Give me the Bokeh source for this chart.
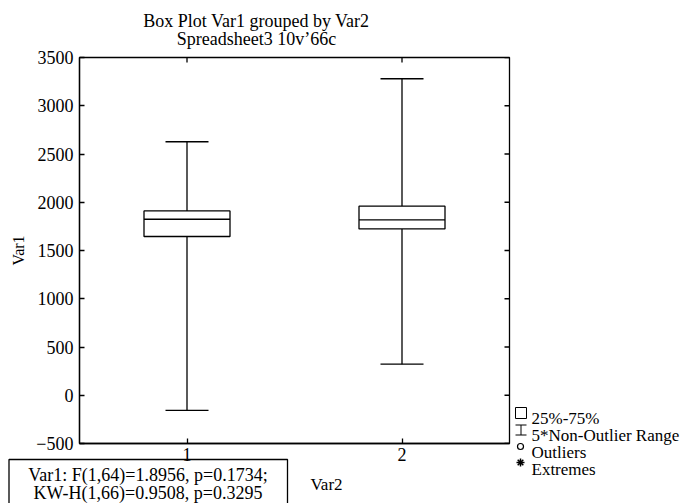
from bokeh.plotting import figure
from bokeh.models import Range1d, FixedTicker, Label, ColumnDataSource
from bokeh.embed import file_html
from bokeh.resources import INLINE

# ---- data ----
categories = ["1", "2"]
q1 = [1645, 1724]
median = [1824, 1817]
q3 = [1910, 1959]
whisker_low = [-156, 322]
whisker_high = [2627, 3280]
y_ticks = [-500, 0, 500, 1000, 1500, 2000, 2500, 3000, 3500]

title_lines = ["Box Plot Var1 grouped by Var2", "Spreadsheet3 10v\u201966c"]
stats_lines = ["Var1: F(1,64)=1.8956, p=0.1734;", "KW-H(1,66)=0.9508, p=0.3295"]
legend_labels = ["25%-75%", "5*Non-Outlier Range", "Outliers", "Extremes"]
x_title = "Var2"
y_title = "Var1"

FONT = "Liberation Serif"
LW = 1.3
W, H = 683, 503
BL, BR, BT, BB = 79, 174, 57, 60       # borders around the frame
XR = (0.5, 2.5)
YR = (-500, 3500)
TICK = 5                                # tick length, px

xs = [i + 1 for i in range(len(categories))]

# ---------------- main chart ----------------
p = figure(width=W, height=H, output_backend="svg", toolbar_location=None,
           x_range=Range1d(*XR), y_range=Range1d(*YR),
           min_border_left=BL, min_border_right=BR, min_border_top=BT,
           min_border_bottom=BB)
p.background_fill_color = "white"
p.border_fill_color = "white"
p.outline_line_color = "black"
p.outline_line_width = LW
p.xgrid.visible = False
p.ygrid.visible = False

def style_axis(ax):
    ax.major_tick_in = TICK
    ax.major_tick_out = 0
    ax.minor_tick_line_color = None
    ax.axis_line_color = "black"
    ax.axis_line_width = LW
    ax.major_tick_line_color = "black"
    ax.major_tick_line_width = LW
    ax.major_label_text_font = FONT
    ax.major_label_text_color = "black"
    ax.major_label_text_font_size = "18px"

xa = p.xaxis[0]
xa.ticker = FixedTicker(ticks=xs)
xa.major_label_overrides = {x: c for x, c in zip(xs, categories)}
style_axis(xa)
xa.major_label_standoff = 4

ya = p.yaxis[0]
ya.ticker = FixedTicker(ticks=y_ticks)
style_axis(ya)
ya.major_label_standoff = 6
ya.axis_label = y_title
ya.axis_label_text_font = FONT
ya.axis_label_text_font_style = "normal"
ya.axis_label_text_font_size = "16px"
ya.axis_label_text_color = "black"
ya.axis_label_standoff = 6

# inward ticks on the right and top edges of the frame (mirrors of the axes' ticks)
frame_w = W - BL - BR
frame_h = H - BT - BB
dx = TICK * (XR[1] - XR[0]) / frame_w
dy = TICK * (YR[1] - YR[0]) / frame_h
p.segment(x0=[XR[1]] * len(y_ticks), x1=[XR[1] - dx] * len(y_ticks),
          y0=y_ticks, y1=y_ticks, line_color="black", line_width=LW)
p.segment(x0=xs, x1=xs, y0=[YR[1]] * len(xs), y1=[YR[1] - dy] * len(xs),
          line_color="black", line_width=LW)

hw = 0.2
cw = 0.1
src = ColumnDataSource(dict(
    left=[x - hw for x in xs], right=[x + hw for x in xs],
    cl=[x - cw for x in xs], cr=[x + cw for x in xs], x=xs,
    q1=q1, q3=q3, med=median, lo=whisker_low, hi=whisker_high))
p.segment(x0="x", x1="x", y0="q3", y1="hi", source=src, line_color="black", line_width=LW)
p.segment(x0="x", x1="x", y0="q1", y1="lo", source=src, line_color="black", line_width=LW)
p.segment(x0="cl", x1="cr", y0="hi", y1="hi", source=src, line_color="black", line_width=LW)
p.segment(x0="cl", x1="cr", y0="lo", y1="lo", source=src, line_color="black", line_width=LW)
p.quad(left="left", right="right", bottom="q1", top="q3", source=src,
       fill_color="white", line_color="black", line_width=LW)
p.segment(x0="left", x1="right", y0="med", y1="med", source=src,
          line_color="black", line_width=LW)

# ---------------- transparent overlay (separate root) for texts outside the frame ----------------
o = figure(width=W, height=H, output_backend="svg", toolbar_location=None,
           x_range=Range1d(0, W), y_range=Range1d(H, 0),
           x_axis_type=None, y_axis_type=None,
           min_border=0, margin=(-H, 0, 0, 0))
o.background_fill_color = None
o.border_fill_color = None
o.outline_line_color = None
o.xgrid.visible = False
o.ygrid.visible = False

def lab(text, x, y, size, align="left", baseline="alphabetic", font=FONT, style="normal"):
    o.add_layout(Label(x=x, y=y, text=text, text_font=font, text_font_size=size,
                       text_font_style=style, text_align=align,
                       text_baseline=baseline, text_color="black"))

# title
lab(title_lines[0], 256, 20, "18px", "center")
lab(title_lines[1], 256, 38, "18px", "center")

# stats box + x-axis title
o.quad(left=[8.5], right=[287], top=[459], bottom=[520], fill_color=None,
       line_color="black", line_width=LW)
lab(stats_lines[0], 147.5, 474, "18px", "center")
lab(stats_lines[1], 147.5, 492, "18px", "center")
lab(x_title, 326, 484, "17px", "center")

# legend
leg_y = [418, 435, 452, 469]
for t, yy in zip(legend_labels, leg_y):
    lab(t, 531, yy, "17px")
o.quad(left=[515], right=[526], top=[407], bottom=[418], fill_color=None,
       line_color="black", line_width=1)
o.segment(x0=[520.5, 515, 515], x1=[520.5, 526, 526],
          y0=[424.5, 424.5, 434.5], y1=[434.5, 424.5, 434.5],
          line_color="black", line_width=1)
o.scatter(x=[520], y=[446], marker="circle", size=6, fill_color=None,
          line_color="black", line_width=1.2)
o.scatter(x=[520], y=[462], marker="asterisk", size=8, line_color="black",
          line_width=1.5)

open("out.html", "w").write(file_html([p, o], INLINE))
